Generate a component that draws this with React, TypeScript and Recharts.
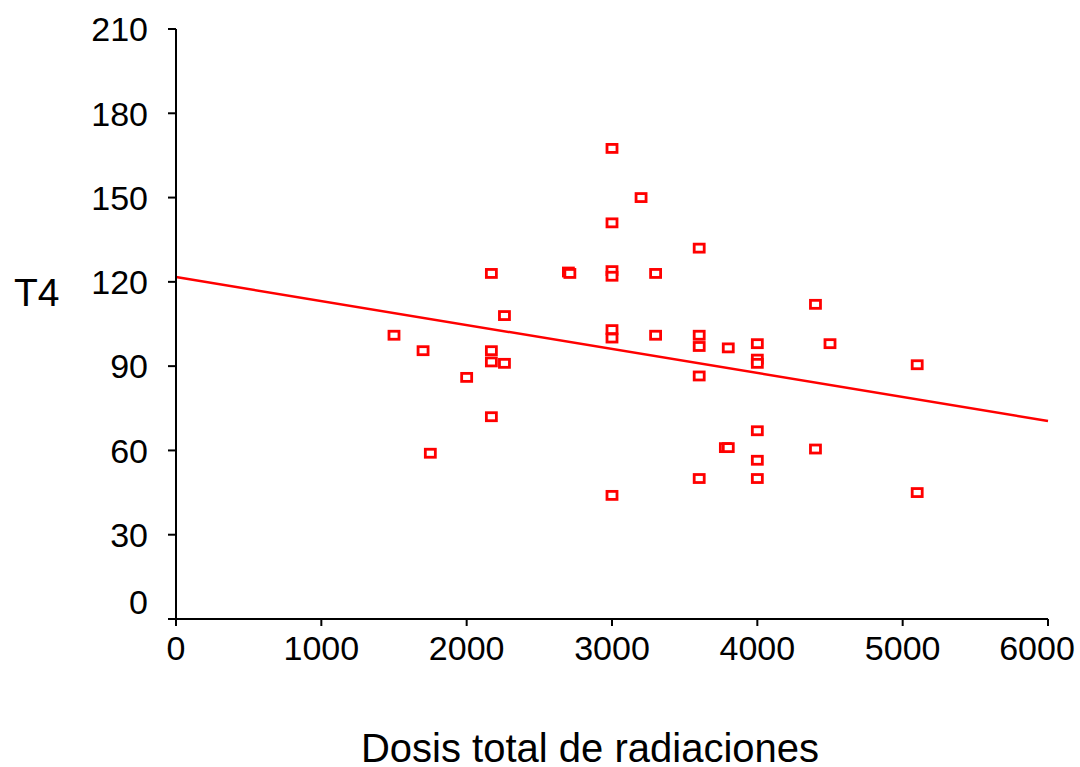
import { ScatterChart, Scatter, XAxis, YAxis, ReferenceLine, Label } from "recharts";

const FONT = "'Liberation Sans', Arial, sans-serif";
const RED = "#ff0000";

// dosis total (x) and T4 (y)
const dosis = [
  1500, 1700, 1750, 2000, 2170, 2170, 2170, 2170, 2260, 2260,
  2700, 2710, 3000, 3000, 3000, 3000, 3000, 3000, 3000, 3200,
  3300, 3300, 3600, 3600, 3600, 3600, 3600, 3800, 3780, 3800,
  4000, 4000, 4000, 4000, 4000, 4000, 4400, 4400, 4500, 5100, 5100,
];
const t4 = [
  101, 95.5, 59, 86, 123, 95.5, 91.5, 72, 108, 91,
  123.5, 123, 167.5, 141, 124, 122, 103, 100, 44, 150,
  123, 101, 132, 101, 97, 86.5, 50, 96.5, 61, 61,
  98, 92.5, 91, 67, 56.5, 50, 112, 60.5, 98, 90.5, 45,
];

const xTicks = [0, 1000, 2000, 3000, 4000, 5000, 6000];
const yTicks = [0, 30, 60, 90, 120, 150, 180, 210];

// fitted line end points
const fitX = [0, 6000];
const fitY = [121.7, 70.5];

const points = dosis.map((d, i) => ({ dosis: d, t4: t4[i] }));

const Box = (props: any) => (
  <rect x={props.cx - 5} y={props.cy - 4} width={10} height={8} fill="#fff" stroke={RED} strokeWidth={2.8} />
);

const YTick = ({ x, y, payload }: any) => (
  <text x={x} y={payload.value === 0 ? y - 17 : y} dy="0.36em" textAnchor="end" fontSize={34} fontFamily={FONT} fill="#000">
    {payload.value}
  </text>
);

const XTick = ({ x, y, payload }: any) => (
  <text x={payload.value === 6000 ? x - 11 : x} y={y} dy="0.72em" textAnchor="middle" fontSize={34} fontFamily={FONT} fill="#000">
    {payload.value}
  </text>
);

export default function App() {
  return (
    <div style={{ position: "absolute", left: 0, top: 0, background: "#fff" }}>
      <ScatterChart width={1080} height={767} margin={{ top: 29, right: 32, bottom: 0, left: 0 }}>
        <XAxis
          type="number"
          dataKey="dosis"
          domain={[0, 6000]}
          ticks={xTicks}
          height={148}
          tickSize={7}
          tickMargin={10}
          tick={<XTick />}
          axisLine={{ stroke: "#000", strokeWidth: 2 }}
          tickLine={{ stroke: "#000", strokeWidth: 2 }}
        >
          <Label value="Dosis total de radiaciones" position="insideBottom" offset={5} dx={-22} fontSize={40} fontFamily={FONT} fill="#000" />
        </XAxis>
        <YAxis
          type="number"
          dataKey="t4"
          domain={[0, 210]}
          ticks={yTicks}
          width={176}
          tickSize={8}
          tickMargin={20}
          tick={<YTick />}
          axisLine={{ stroke: "#000", strokeWidth: 2 }}
          tickLine={{ stroke: "#000", strokeWidth: 2 }}
        >
          <Label
            content={() => (
              <text x={14} y={292} dy="0.36em" fontSize={39} fontFamily={FONT} fill="#000">
                T4
              </text>
            )}
          />
        </YAxis>
        <ReferenceLine
          segment={[{ x: fitX[0], y: fitY[0] }, { x: fitX[1], y: fitY[1] }]}
          stroke={RED}
          strokeWidth={2.5}
          ifOverflow="visible"
        />
        <Scatter data={points} shape={<Box />} isAnimationActive={false} />
      </ScatterChart>
    </div>
  );
}
